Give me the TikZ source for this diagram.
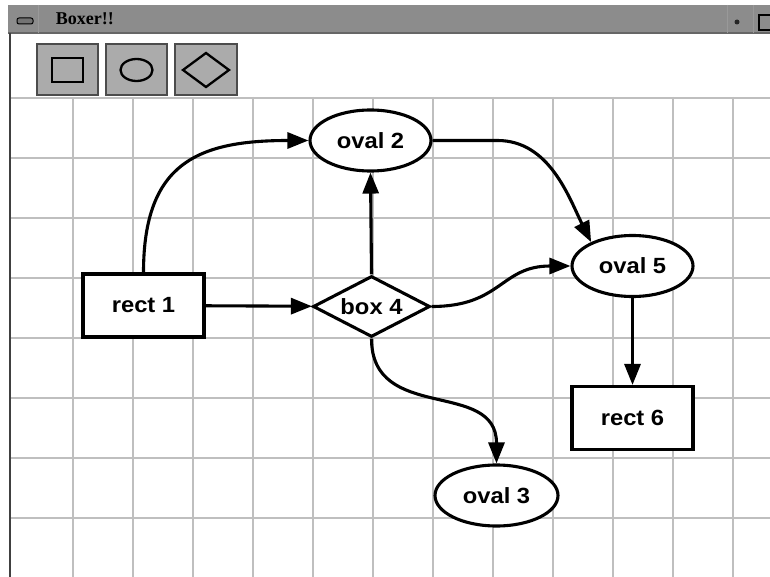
\documentclass[tikz,border=0pt]{standalone}
\usepackage{fontspec}
\setmainfont{Liberation Serif}
\newfontfamily\labelfont[FakeStretch=1.08]{Liberation Sans}
\usetikzlibrary{arrows.meta,shapes.geometric}
\definecolor{titlebar}{HTML}{8C8C8C}
\definecolor{toolgray}{HTML}{ABABAB}
\newcommand{\nodefont}{\labelfont\bfseries\fontsize{22}{26}\selectfont}

\begin{document}
\begin{tikzpicture}[x=1pt,y=-1pt,line width=3.1pt,
  rectbox/.style={draw,fill=white,rectangle,minimum width=121pt,minimum height=63pt,inner sep=0pt,font=\nodefont},
  ovalbox/.style={rectbox,ellipse,minimum height=61pt},
  diamondbox/.style={rectbox,diamond,aspect=2,minimum width=117pt,minimum height=61pt},
  link/.style={-{Triangle[length=21pt,width=16pt]}},
  gridline/.style={gray!50,line width=1.5pt},
  tool/.style={draw=black!70,fill=toolgray,line width=1.4pt}]
\useasboundingbox (0,0) rectangle (770,577);
\fill[white] (0,0) rectangle (770,577);

% title bar
\fill[titlebar] (8,5) rectangle (770,33);
\draw[black!60,line width=1.5pt] (8,33) -- (770,33);
\draw[black!40,line width=1pt] (38,5) -- (38,33);
\draw[black!40,line width=1pt] (727,5) -- (727,33);
\draw[black!40,line width=1pt] (753,5) -- (753,33);
\draw[black,fill=black!55,line width=1pt,rounded corners=2pt] (17,18) rectangle (33,24);
\node[anchor=west,font=\bfseries\fontsize{18}{20}\selectfont] (title) at (51,19) {Boxer!!};
\fill[black!85] (737,22) circle (2.5);
\draw[black,line width=1.5pt] (759,15) rectangle (776,30);

% tool buttons
\draw[tool] (37,44) rectangle (98,95);
\draw[tool] (106,44) rectangle (167,95);
\draw[tool] (175,44) rectangle (237,95);
\draw[line width=2.3pt] (52,58) rectangle (83,82);
\draw[line width=2.3pt] (136.5,70) ellipse (16 and 11);
\draw[line width=2.3pt] (183,70) -- (206,53) -- (229,70) -- (206,87) -- cycle;

% grid
\foreach \gx in {73,133,...,733} \draw[gridline] (\gx,97) -- (\gx,577);
\foreach \gy in {98,158,...,518} \draw[gridline] (11,\gy) -- (770,\gy);
\draw[black!75,line width=2pt] (10,33) -- (10,577);

\node[rectbox] (rect1) at (143.5,305.5) {rect 1};
\node[ovalbox] (oval2) at (370.5,140.5) {oval 2};
\node[diamondbox] (box4) at (371.5,306.5) {box 4};
\node[ovalbox] (oval5) at (632.5,266) {oval 5};
\node[rectbox] (rect6) at (632.5,418) {rect 6};
\node[ovalbox,minimum width=123pt] (oval3) at (496.5,495.5) {oval 3};

\draw[link] (rect1.north) .. controls +(0,-110) and +(-110,0) .. (oval2.west);
\draw[link] (rect1) -- (box4);
\draw[link] (box4.north) -- (oval2.south);
\draw[link] (oval2.east) -- ++(65,0) .. controls +(52,0) and +(-22,-44) .. (oval5.150);
\draw[link] (box4.east) .. controls +(70,0) and +(-70,0) .. (oval5.west);
\draw[link] (box4.south) .. controls +(0,85) and +(0,-85) .. (oval3.north);
\draw[link] (oval5) -- (rect6);
\end{tikzpicture}
\end{document}
